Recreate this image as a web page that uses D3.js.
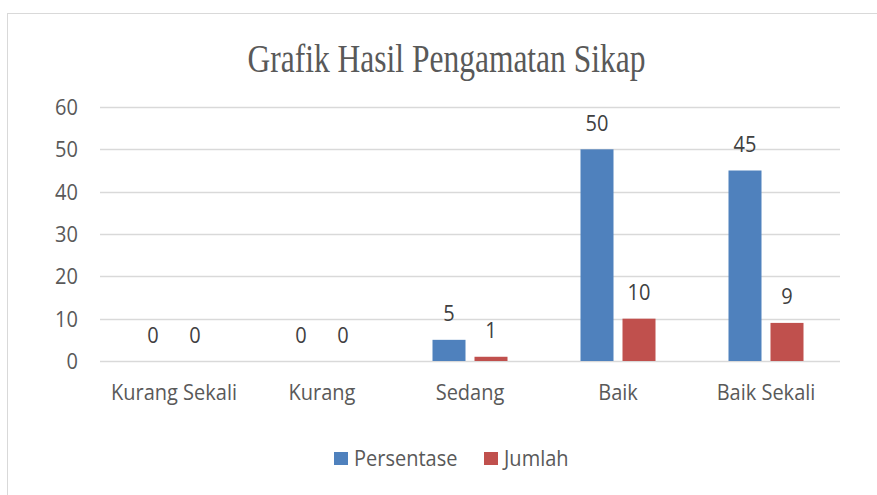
<!DOCTYPE html>
<html><head><meta charset="utf-8">
<script src="https://cdn.jsdelivr.net/npm/d3@7"></script>
<style>body{margin:0;background:#fff}svg{display:block}</style>
</head><body>
<script>
const categories = ["Kurang Sekali","Kurang","Sedang","Baik","Baik Sekali"];
const seriesNames = ["Persentase","Jumlah"];
const persentase = [0,0,5,50,45];
const jumlah = [0,0,1,10,9];
const yTicks = [0,10,20,30,40,50,60];
const colors = ["#4F81BD","#C0504D"];
const title = "Grafik Hasil Pengamatan Sikap";

const W=877,H=495;
const svg=d3.select("body").append("svg").attr("width",W).attr("height",H);
svg.append("rect").attr("x",7.5).attr("y",13.5).attr("width",W).attr("height",H).attr("fill","#fff").attr("stroke","#D9D9D9").attr("stroke-width",1);

const font="'Open Sans', sans-serif";
const txt="#595959";
const FS=20, SY=1.1;
function label(g,x,y,t,anchor,fill){
  return g.append("text").attr("transform",`translate(${x},${y}) scale(1,${SY})`)
    .attr("text-anchor",anchor).attr("font-family",font).attr("font-size",FS).attr("fill",fill||txt).text(t);
}
svg.append("text").attr("transform","translate(446.5,71.5) scale(1,1.3)").attr("text-anchor","middle")
  .attr("font-family","'Liberation Serif', 'Times New Roman', serif").attr("font-size",31.5).attr("fill",txt).text(title);

const x=d3.scaleBand().domain(categories).range([100,840]);
const y=d3.scaleLinear().domain([0,60]).range([361,107]);
const groupW=75;
const sub=d3.scaleBand().domain(seriesNames).range([0,groupW]).paddingInner(9/42);

svg.append("g").selectAll("line").data(yTicks).join("line")
  .attr("x1",100).attr("x2",840).attr("y1",d=>Math.round(y(d))+0.5).attr("y2",d=>Math.round(y(d))+0.5)
  .attr("stroke","#D9D9D9").attr("stroke-width",1.3);

const gy=svg.append("g");
yTicks.forEach(d=>label(gy,78,y(d)+8,d,"end"));
const gx=svg.append("g");
categories.forEach(c=>label(gx,x(c)+x.bandwidth()/2,399.5,c,"middle"));

const series=[persentase,jumlah];
series.forEach((vals,si)=>{
  const g=svg.append("g");
  const data=categories.map((c,i)=>({c,v:vals[i]}));
  g.selectAll("rect").data(data).join("rect")
    .attr("x",d=>x(d.c)+x.bandwidth()/2-groupW/2+sub(seriesNames[si]))
    .attr("width",sub.bandwidth())
    .attr("y",d=>y(d.v)).attr("height",d=>y(0)-y(d.v))
    .attr("fill",colors[si]);
  const gl=svg.append("g");
  data.forEach(d=>label(gl,x(d.c)+x.bandwidth()/2-groupW/2+sub(seriesNames[si])+sub.bandwidth()/2,y(d.v)-18.5,d.v,"middle","#404040"));
});

const leg=svg.append("g");
const legX=[334,484];
seriesNames.forEach((n,i)=>{
  leg.append("rect").attr("x",legX[i]).attr("y",452).attr("width",14).attr("height",13).attr("fill",colors[i]);
  label(leg,legX[i]+20,465.5,n,"start");
});
</script>
</body></html>
